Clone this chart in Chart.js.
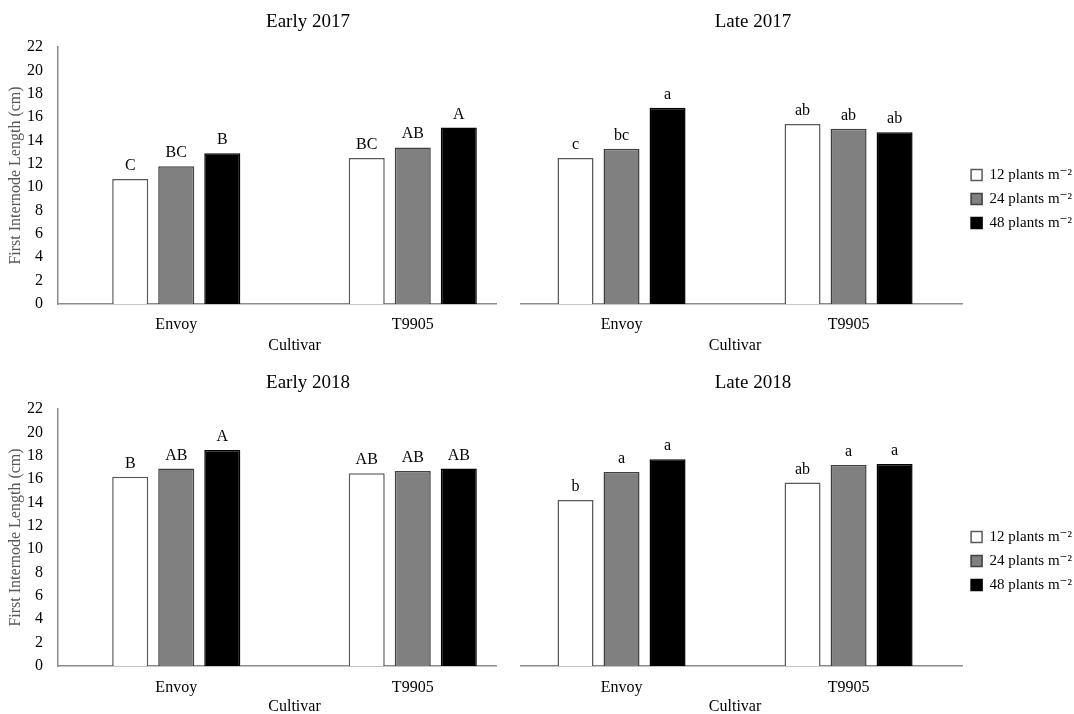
<!DOCTYPE html>
<html>
<head>
<meta charset="utf-8">
<script src="https://cdn.jsdelivr.net/npm/chart.js@4.4.1/dist/chart.umd.min.js"></script>
<style>
  html, body { margin: 0; padding: 0; background: #fff; }
  body { width: 1074px; height: 714px; position: relative; overflow: hidden; }
  canvas { position: absolute; }
  /* the panels overlap a little, the way the original figure does */
  .left { clip-path: inset(0 34px 0 0); }
  .right { clip-path: inset(0 0 0 12px); }
</style>
</head>
<body>
<canvas id="e17" class="left" width="531" height="360" style="left:0;top:0"></canvas>
<canvas id="l17" class="right" width="566" height="360" style="left:508px;top:0"></canvas>
<canvas id="e18" class="left" width="531" height="354" style="left:0;top:360px"></canvas>
<canvas id="l18" class="right" width="566" height="354" style="left:508px;top:360px"></canvas>
<script>
const cultivars = ['Envoy', 'T9905'];
const densities = ['12 plants m\u207B\u00B2', '24 plants m\u207B\u00B2', '48 plants m\u207B\u00B2'];

// Early 2017
const early2017_12 = [10.7, 12.5];
const early2017_24 = [11.8, 13.4];
const early2017_48 = [12.9, 15.1];
const early2017_letters = [['C', 'BC'], ['BC', 'AB'], ['B', 'A']];

// Late 2017
const late2017_12 = [12.5, 15.4];
const late2017_24 = [13.3, 15.0];
const late2017_48 = [16.8, 14.7];
const late2017_letters = [['c', 'ab'], ['bc', 'ab'], ['a', 'ab']];

// Early 2018
const early2018_12 = [16.2, 16.5];
const early2018_24 = [16.9, 16.7];
const early2018_48 = [18.5, 16.9];
const early2018_letters = [['B', 'AB'], ['AB', 'AB'], ['A', 'AB']];

// Late 2018
const late2018_12 = [14.2, 15.7];
const late2018_24 = [16.6, 17.2];
const late2018_48 = [17.7, 17.3];
const late2018_letters = [['b', 'ab'], ['a', 'a'], ['a', 'a']];

const fills = ['#ffffff', '#808080', '#000000'];
const borders = ['#595959', '#404040', '#000000'];
const serif = "'Liberation Serif', 'Times New Roman', 'DejaVu Serif', serif";

Chart.defaults.font.family = serif;
Chart.defaults.color = '#000';

function panel(id, title, series, letters, o) {
  const textPlugin = {
    id: 'panelText',
    afterDraw(chart) {
      const ctx = chart.ctx;
      ctx.save();
      ctx.fillStyle = '#000';
      ctx.textAlign = 'center';
      ctx.textBaseline = 'middle';
      ctx.font = '19px ' + serif;
      ctx.fillText(title, o.titleX, o.titleY);
      ctx.font = '16px ' + serif;
      ctx.textBaseline = 'alphabetic';
      chart.data.datasets.forEach((ds, i) => {
        chart.getDatasetMeta(i).data.forEach((bar, j) => {
          ctx.fillText(letters[i][j], bar.x, bar.y - 9);
        });
      });
      ctx.restore();
    }
  };
  return new Chart(document.getElementById(id), {
    type: 'bar',
    data: {
      labels: cultivars,
      datasets: series.map((vals, i) => ({
        label: densities[i],
        data: vals,
        backgroundColor: fills[i],
        borderColor: borders[i],
        borderWidth: 1.5,
        categoryPercentage: o.cat,
        barPercentage: 0.783
      }))
    },
    options: {
      responsive: false,
      animation: false,
      layout: { padding: o.pad },
      plugins: {
        legend: {
          display: o.legend,
          position: 'right',
          labels: { boxWidth: 11, boxHeight: 11, padding: 9, color: '#000', font: { size: 15 } }
        },
        tooltip: { enabled: false },
        title: { display: false }
      },
      scales: {
        x: {
          grid: { display: false },
          border: { display: true, color: '#8c8c8c', width: 1.5 },
          ticks: { padding: o.tickPad, color: '#000', font: { size: 16 } },
          title: { display: true, text: 'Cultivar', color: '#000', font: { size: 16 }, padding: { top: 0, bottom: o.titlePad } },
          afterFit: s => { s.height = 47; }
        },
        y: {
          display: o.yAxis,
          min: 0,
          max: 22,
          grid: { display: false, drawTicks: false },
          border: { display: true, color: '#8c8c8c', width: 1.5 },
          ticks: { stepSize: 2, padding: 15, color: '#000', font: { size: 16 } },
          title: { display: true, text: 'First Internode Length (cm)', color: '#595959', font: { size: 16 }, padding: { top: 6, bottom: 0 } },
          afterFit: s => { s.width = o.yAxis ? 58 : 0; }
        }
      }
    },
    plugins: [textPlugin]
  });
}

panel('e17', 'Early 2017', [early2017_12, early2017_24, early2017_48], early2017_letters,
  { pad: { top: 47, bottom: 9, left: 0, right: 0 }, cat: 0.584, legend: false, yAxis: true, tickPad: 3, titlePad: -4, titleX: 308, titleY: 22 });
panel('l17', 'Late 2017', [late2017_12, late2017_24, late2017_48], late2017_letters,
  { pad: { top: 47, bottom: 9, left: 0, right: -8 }, cat: 0.608, legend: true, yAxis: false, tickPad: 3, titlePad: -4, titleX: 245, titleY: 22 });
panel('e18', 'Early 2018', [early2018_12, early2018_24, early2018_48], early2018_letters,
  { pad: { top: 49, bottom: 1, left: 0, right: 0 }, cat: 0.584, legend: false, yAxis: true, tickPad: 4, titlePad: -3, titleX: 308, titleY: 23 });
panel('l18', 'Late 2018', [late2018_12, late2018_24, late2018_48], late2018_letters,
  { pad: { top: 49, bottom: 1, left: 0, right: -8 }, cat: 0.608, legend: true, yAxis: false, tickPad: 4, titlePad: -3, titleX: 245, titleY: 23 });
</script>
</body>
</html>
